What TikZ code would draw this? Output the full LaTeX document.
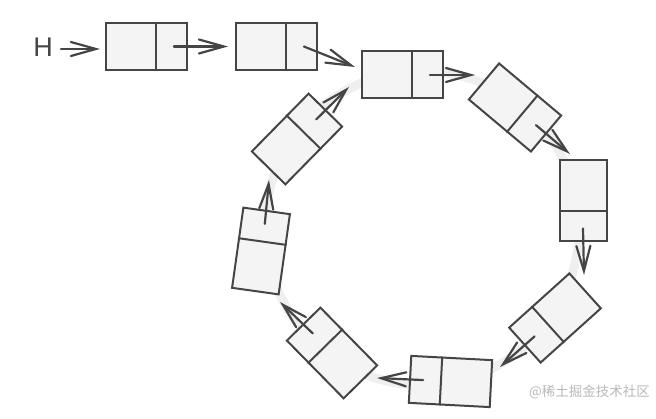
\documentclass[tikz,border=0pt]{standalone}
\usepackage{fontspec}
\setmainfont{Liberation Sans}
\newfontfamily\cjk{Noto Sans CJK SC}
\usetikzlibrary{arrows.meta,calc}
\definecolor{edge}{HTML}{454545}
\definecolor{boxfill}{HTML}{F4F4F4}
\definecolor{ring}{HTML}{EFEFEF}
\tikzset{
  cell/.style={draw=edge, fill=boxfill, line width=2pt, minimum width=81pt, minimum height=47pt, inner sep=0pt, rotate=#1},
  divider/.style={draw=edge, line width=2pt},
  link/.style={draw=edge, line width=2.2pt, line cap=round, -{Straight Barb[length=25pt,width=14pt,line cap=round]}},
}
\begin{document}
\begin{tikzpicture}[x=1pt,y=1pt]
\useasboundingbox (0,0) rectangle (656,419);
% faint ring behind the cycle
\node[circle, draw=ring, line width=9pt, minimum size=314pt, inner sep=0pt] (ringc) at (422,191) {};
% list cells
\foreach \n/\x/\y/\a in {n1/146.5/372.5/0, n2/276.5/372.5/0, n3/402.5/344/0, n4/515/311.5/-40, n5/583/218/-90, n6/555/101/-138, n7/450.5/37.5/177, n8/332/66/134.5, n9/261/168/82, n10/297/280/45.5}{
  \node[cell=\a] (\n) at (\x,\y) {};
  \draw[divider] ($(\n.north west)!0.615!(\n.north east)$) -- ($(\n.south west)!0.615!(\n.south east)$);
  \coordinate (\n p) at ($(\n.center)!0.66!(\n.east)$);
}
% head label
\node[text=edge, font=\fontsize{27}{30}\selectfont, inner sep=0pt] (H) at (43,371.5) {H};
% arrow tips
\coordinate (t1) at (100,370);
\coordinate (t2) at (228,372.5);
\coordinate (t3) at (355,352);
\coordinate (t4) at (475,344);
\coordinate (t5) at (570,265);
\coordinate (t6) at (584,144);
\coordinate (t7) at (500,52);
\coordinate (t8) at (377,41);
\coordinate (t9) at (280,117);
\coordinate (t10) at (269,239);
\coordinate (t11) at (349,332);
\coordinate (h0) at (61,370);
\draw[link] (h0) -- (t1);
\draw[link] (n1p) -- (t2);
\draw[link] (n2p) -- (t3);
\draw[link] (n3p) -- (t4);
\draw[link] (n4p) -- (t5);
\draw[link] (n5p) -- (t6);
\draw[link] (n6p) -- (t7);
\draw[link] (n7p) -- (t8);
\draw[link] (n8p) -- (t9);
\draw[link] (n9p) -- (t10);
\draw[link] (n10p) -- (t11);
% watermark
\node[text=black!28, font=\cjk\fontsize{13.5}{15}\selectfont, inner sep=0pt] (wm) at (589.5,27) {@稀土掘金技术社区};
\end{tikzpicture}
\end{document}
